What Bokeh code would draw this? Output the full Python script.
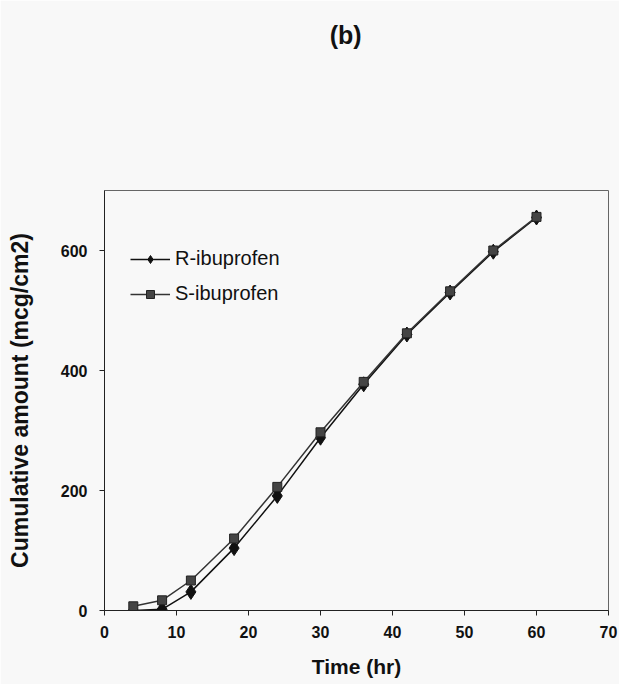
from bokeh.plotting import figure
from bokeh.models import (ColumnDataSource, FixedTicker, Legend, LegendItem,
                          LinearAxis, Range1d)
from bokeh.embed import file_html
from bokeh.resources import INLINE

# Cumulative permeation of ibuprofen enantiomers over time
time_hr = [4, 8, 12, 18, 24, 30, 36, 42, 48, 54, 60]
r_ibuprofen = [0, 2, 31, 104, 191, 288, 377, 460, 530, 598, 655]
s_ibuprofen = [7, 17, 50, 120, 206, 297, 381, 462, 532, 600, 656]

x_ticks = [0, 10, 20, 30, 40, 50, 60, 70]
y_ticks = [0, 200, 400, 600]

panel_letter = "(b)"
panel_letter_x = 33.5

FONT = "Liberation Sans"
BG = "#f8f8f8"

src = ColumnDataSource(dict(t=time_hr, r=r_ibuprofen, s=s_ibuprofen))

p = figure(width=619, height=684, output_backend="svg", toolbar_location=None,
           x_range=Range1d(0, 70), y_range=Range1d(0, 700),
           min_border_left=104, min_border_right=11,
           min_border_top=190, min_border_bottom=74)

p.background_fill_color = BG
p.border_fill_color = BG
p.outline_line_color = "#666666"
p.outline_line_width = 1
p.grid.visible = False

for ax in (p.xaxis[0], p.yaxis[0]):
    ax.axis_line_color = "#222222"
    ax.major_tick_line_color = "#222222"
    ax.major_tick_in = 0
    ax.major_tick_out = 5
    ax.minor_tick_line_color = None
    ax.major_label_text_font = FONT
    ax.major_label_text_font_style = "bold"
    ax.major_label_text_font_size = "16px"
    ax.major_label_text_color = "#111111"
    ax.axis_label_text_font = FONT
    ax.axis_label_text_font_style = "bold"
    ax.axis_label_text_color = "#111111"

p.xaxis.ticker = FixedTicker(ticks=x_ticks)
p.yaxis.ticker = FixedTicker(ticks=y_ticks)
p.xaxis.major_label_standoff = 10
p.yaxis.major_label_standoff = 12
p.xaxis.axis_label = "Time (hr)"
p.yaxis.axis_label = "Cumulative amount (mcg/cm2)"
p.xaxis.axis_label_text_font_size = "21px"
p.yaxis.axis_label_text_font_size = "23px"
p.xaxis.axis_label_standoff = 14
p.yaxis.axis_label_standoff = 25

# Panel letter carried by an invisible axis along the top edge
top_axis = LinearAxis(ticker=FixedTicker(ticks=[panel_letter_x]),
                      major_label_overrides={panel_letter_x: panel_letter},
                      axis_line_color=None, major_tick_line_color=None,
                      minor_tick_line_color=None, major_tick_out=0,
                      major_tick_in=0, major_label_standoff=142,
                      major_label_text_font=FONT,
                      major_label_text_font_style="bold",
                      major_label_text_font_size="25px",
                      major_label_text_color="#111111")
p.add_layout(top_axis, "above")

r_line = p.line("t", "r", source=src, line_color="#111111", line_width=1.5)
r_pts = p.scatter("t", "r", source=src, marker="diamond", size=15,
                  fill_color="#111111", line_color="#111111")
s_line = p.line("t", "s", source=src, line_color="#333333", line_width=1.5)
s_pts = p.scatter("t", "s", source=src, marker="square", size=9,
                  fill_color="#444444", line_color="#222222")

legend = Legend(items=[LegendItem(label="R-ibuprofen", renderers=[r_line, r_pts]),
                       LegendItem(label="S-ibuprofen", renderers=[s_line, s_pts])],
                location=(26, 305), padding=0, margin=0, spacing=12,
                glyph_width=40, glyph_height=20, label_standoff=5,
                border_line_color=None, background_fill_alpha=0,
                label_text_font=FONT, label_text_font_size="20px",
                label_text_color="#111111")
p.add_layout(legend)

open("out.html", "w").write(file_html(p, INLINE))
